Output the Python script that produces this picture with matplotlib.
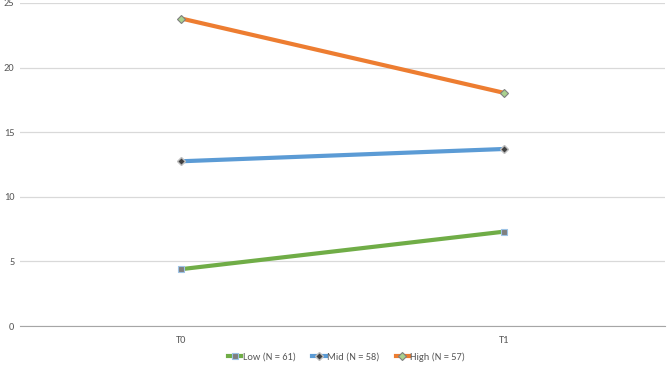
import matplotlib
matplotlib.use("Agg")
import matplotlib.pyplot as plt
from matplotlib.lines import Line2D

categories = ["T0", "T1"]
low = [4.4, 7.3]
mid = [12.75, 13.7]
high = [23.8, 18.05]
series_names = ["Low (N = 61)", "Mid (N = 58)", "High (N = 57)"]
colors = ["#70AD47", "#5B9BD5", "#ED7D31"]
yticks = [0, 5, 10, 15, 20, 25]

plt.rcParams['font.family'] = ['Carlito', 'Liberation Sans', 'DejaVu Sans']

fig = plt.figure(figsize=(6.69, 3.70), dpi=100)
ax = fig.add_axes([20/669, 1-326/370, 645/669, 323/370])

styles = [
    dict(marker='s', ms=4.5, mfc='#7F7F7F', mec='#9DC3E6', mew=0.8),
    dict(marker='D', ms=4, mfc='#404040', mec='#BFBFBF', mew=1),
    dict(marker='D', ms=4, mfc='#A9D18E', mec='#7F7F7F', mew=0.8),
]
x = list(range(len(categories)))
for vals, c, st in zip([low, mid, high], colors, styles):
    ax.plot(x, vals, color=c, lw=3, solid_capstyle='round', zorder=3, **st)

ax.set_xlim(-0.5, 1.5)
ax.set_ylim(0, 25)
ax.set_yticks(yticks)
ax.set_xticks(x)
ax.set_xticklabels(categories)
ax.grid(axis='y', color='#D9D9D9', lw=0.9)
ax.set_axisbelow(True)
for s in ['top', 'right', 'left']:
    ax.spines[s].set_visible(False)
ax.spines['bottom'].set_color('#A6A6A6')
ax.tick_params(axis='both', length=0, labelsize=7.5, colors='#595959')
ax.tick_params(axis='y', pad=4)
ax.tick_params(axis='x', pad=7)

handles = [Line2D([], [], color=c, lw=3, **st) for c, st in zip(colors, styles)]
fig.legend(handles, series_names, loc='center', bbox_to_anchor=(0.518, 1-357/370), ncol=3,
           frameon=False, fontsize=7.5, labelcolor='#595959', handlelength=1.3, handletextpad=0.1,
           columnspacing=1.6)

fig.savefig("out.png", dpi=100)
